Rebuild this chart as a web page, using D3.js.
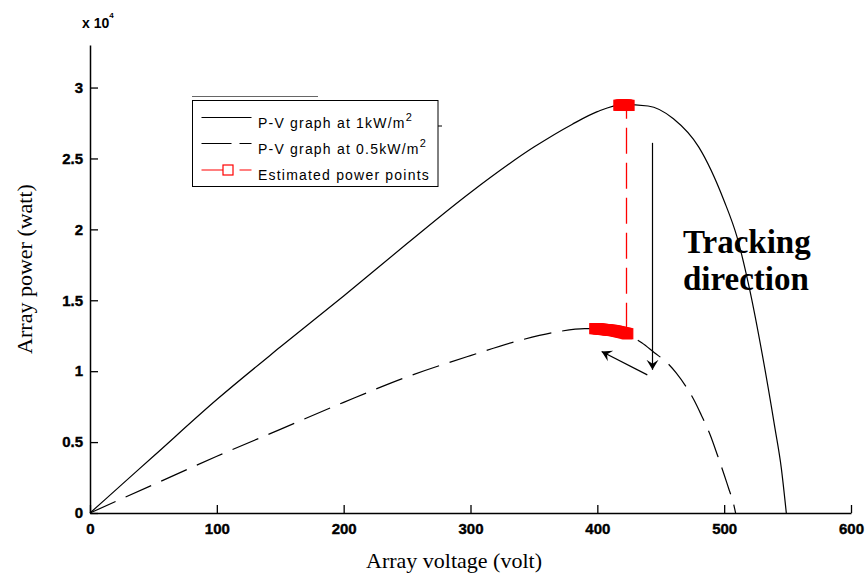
<!DOCTYPE html>
<html>
<head>
<meta charset="utf-8">
<script src="https://cdn.jsdelivr.net/npm/d3@7/dist/d3.min.js"></script>
<style>
  html, body { margin: 0; padding: 0; background: #fff; }
  svg { display: block; }
</style>
</head>
<body>
<div id="chart"></div>
<script>
// P-V curves (volt, watt)
const volt1k = [0, 25, 50, 100, 150, 200, 250, 300, 350, 380, 400, 420, 440, 460, 480, 500, 510, 520, 530, 540, 545, 549];
const power1k = [0, 2000, 4000, 8000, 11700, 15300, 19000, 22600, 25800, 27400, 28300, 28800, 28700, 27800, 25800, 22000, 19500, 15800, 11200, 6000, 3200, 0];

const volt05 = [0, 50, 100, 150, 200, 250, 300, 340, 370, 390, 410, 425, 435, 445, 455, 462, 470, 476, 482, 489, 495, 500, 504, 507, 509];
const power05 = [0, 2000, 4000, 5900, 7800, 9600, 11100, 12200, 12800, 13000, 12900, 12500, 12000, 11300, 10600, 9900, 8900, 8000, 6900, 5500, 4000, 2700, 1600, 800, 0];

// estimated power points (tracking trace)
const estVolt = [417, 418, 419, 420, 421, 422, 423, 424, 425, 423, 423, 424, 423, 422, 421, 420, 419, 418, 417, 416, 415, 414, 413, 412, 411, 410, 409, 408, 407, 406, 405, 404, 403, 402, 401, 400, 399, 398];
const estPower = [28750, 28760, 28770, 28770, 28770, 28770, 28760, 28750, 28740, 28740, 12650, 12640, 12660, 12680, 12700, 12720, 12740, 12760, 12780, 12800, 12820, 12840, 12860, 12870, 12880, 12890, 12900, 12910, 12920, 12930, 12940, 12950, 12960, 12970, 12980, 12990, 13000, 13000];

const xTicks = [0, 100, 200, 300, 400, 500, 600];
const yTicks = [0, 5000, 10000, 15000, 20000, 25000, 30000];
const yTickLabels = ['0', '0.5', '1', '1.5', '2', '2.5', '3'];

const legendLabels = ['P-V graph at  1kW/m', 'P-V graph at  0.5kW/m', 'Estimated power points'];

const width = 867, height = 582;
const margin = { top: 45, right: 16, bottom: 69, left: 90 };

const svg = d3.select('#chart').append('svg')
  .attr('width', width)
  .attr('height', height);

const x = d3.scaleLinear().domain([0, 600]).range([margin.left, width - margin.right]);
const y = d3.scaleLinear().domain([0, 33000]).range([height - margin.bottom, margin.top]);

const tickFont = '"Liberation Sans", Arial, sans-serif';

// axes (ticks pointing inward, MATLAB style)
const xAxis = svg.append('g')
  .attr('transform', `translate(0,${y(0)})`)
  .call(d3.axisBottom(x).tickValues(xTicks).tickSizeInner(-8).tickSizeOuter(0).tickPadding(8));
const yAxis = svg.append('g')
  .attr('transform', `translate(${x(0)},0)`)
  .call(d3.axisLeft(y).tickValues(yTicks).tickSizeInner(-8).tickSizeOuter(0).tickPadding(7)
    .tickFormat((d, i) => yTickLabels[i]));

[xAxis, yAxis].forEach(g => {
  g.select('.domain').attr('stroke', '#000').attr('stroke-width', 1.5);
  g.selectAll('.tick line').attr('stroke', '#000').attr('stroke-width', 1.3);
  g.selectAll('.tick text')
    .attr('fill', '#000')
    .attr('stroke', '#000')
    .attr('stroke-width', 0.4)
    .attr('font-family', tickFont)
    .attr('font-weight', 'bold')
    .attr('font-size', '15px');
});
xAxis.selectAll('.tick text').attr('dy', '0.85em');

// exponent label
const expo = svg.append('text')
  .attr('x', 82).attr('y', 28)
  .attr('font-family', tickFont)
  .attr('font-weight', 'bold')
  .attr('font-size', '14px')
  .attr('fill', '#000');
expo.append('tspan').text('x 10');
expo.append('tspan').attr('dy', -10).attr('font-size', '8px').text('4');

// axis titles
const serif = '"Liberation Serif", "Times New Roman", serif';
svg.append('text')
  .attr('x', 454).attr('y', 568)
  .attr('text-anchor', 'middle')
  .attr('font-family', serif)
  .attr('font-size', '22px')
  .attr('fill', '#000')
  .text('Array voltage (volt)');
svg.append('text')
  .attr('transform', 'translate(32,269) rotate(-90)')
  .attr('text-anchor', 'middle')
  .attr('font-family', serif)
  .attr('font-size', '22px')
  .attr('fill', '#000')
  .text('Array power (watt)');

// curves
const line = d3.line()
  .x(d => x(d[0]))
  .y(d => y(d[1]))
  .curve(d3.curveMonotoneX);

svg.append('path')
  .attr('d', line(d3.zip(volt1k, power1k)))
  .attr('fill', 'none')
  .attr('stroke', '#000')
  .attr('stroke-width', 1.2);

svg.append('path')
  .attr('d', line(d3.zip(volt05, power05)))
  .attr('fill', 'none')
  .attr('stroke', '#000')
  .attr('stroke-width', 1.2)
  .attr('stroke-dasharray', '28 11');

// estimated power points: red dashed trace with square markers
const estPts = d3.zip(estVolt, estPower);
svg.append('path')
  .attr('d', d3.line().x(d => x(d[0])).y(d => y(d[1]))(estPts))
  .attr('fill', 'none')
  .attr('stroke', '#ff0000')
  .attr('stroke-width', 1.3)
  .attr('stroke-dasharray', '26 9');

svg.append('g').selectAll('rect')
  .data(estPts)
  .join('rect')
  .attr('x', d => x(d[0]) - 5)
  .attr('y', d => y(d[1]) - 5)
  .attr('width', 10)
  .attr('height', 10)
  .attr('fill', '#ff0000')
  .attr('stroke', '#ff0000')
  .attr('stroke-width', 1.2);

// annotation: tracking direction arrows
const defs = svg.append('defs');
defs.append('marker')
  .attr('id', 'head')
  .attr('viewBox', '-10 -8 12 16')
  .attr('refX', 0).attr('refY', 0)
  .attr('markerWidth', 12).attr('markerHeight', 16)
  .attr('markerUnits', 'userSpaceOnUse')
  .attr('orient', 'auto')
  .append('path')
  .attr('d', 'M0,0 L-10,-6 L-6,0 L-10,6 Z')
  .attr('fill', '#000');

const arrows = [
  { v0: 443.5, p0: 26100, v1: 443.5, p1: 10100 },
  { v0: 439.4, p0: 9740, v1: 403.4, p1: 11390 }
];
svg.append('g').selectAll('line')
  .data(arrows)
  .join('line')
  .attr('x1', d => x(d.v0)).attr('y1', d => y(d.p0))
  .attr('x2', d => x(d.v1)).attr('y2', d => y(d.p1))
  .attr('stroke', '#000')
  .attr('stroke-width', 1.2)
  .attr('marker-end', 'url(#head)');

const note = svg.append('text')
  .attr('font-family', serif)
  .attr('font-weight', 'bold')
  .attr('font-size', '33px')
  .attr('fill', '#000');
note.append('tspan').attr('x', x(467.5)).attr('y', y(18350)).text('Tracking');
note.append('tspan').attr('x', x(467.5)).attr('dy', 37).text('direction');

// legend
const legend = svg.append('g');
legend.append('line')
  .attr('x1', 192).attr('y1', 96.5).attr('x2', 318).attr('y2', 96.5)
  .attr('stroke', '#666').attr('stroke-width', 1);
legend.append('rect')
  .attr('x', 192.5).attr('y', 100.5)
  .attr('width', 245.5).attr('height', 86)
  .attr('fill', '#fff')
  .attr('stroke', '#000')
  .attr('stroke-width', 1);
legend.append('line')
  .attr('x1', 438).attr('y1', 126).attr('x2', 442).attr('y2', 126)
  .attr('stroke', '#000');

const rowY = [117.5, 143.5, 170];
const sampleStyles = [
  { stroke: '#000', dash: null },
  { stroke: '#000', dash: '30 8' },
  { stroke: '#ff0000', dash: '30 8' }
];
legendLabels.forEach((label, i) => {
  legend.append('line')
    .attr('x1', 201.5).attr('x2', 251.5)
    .attr('y1', rowY[i]).attr('y2', rowY[i])
    .attr('stroke', sampleStyles[i].stroke)
    .attr('stroke-width', 1.2)
    .attr('stroke-dasharray', sampleStyles[i].dash);
  const t = legend.append('text')
    .attr('x', 258).attr('y', rowY[i] + 10)
    .attr('font-family', tickFont)
    .attr('font-size', '14px')
    .attr('letter-spacing', '1.2px')
    .attr('fill', '#000');
  t.append('tspan').text(label);
  if (i < 2) t.append('tspan').attr('dy', -7).attr('font-size', '11px').text('2');
});
legend.append('rect')
  .attr('x', 223).attr('y', 165)
  .attr('width', 10).attr('height', 10)
  .attr('fill', '#fff')
  .attr('stroke', '#ff0000')
  .attr('stroke-width', 1.2);
</script>
</body>
</html>
